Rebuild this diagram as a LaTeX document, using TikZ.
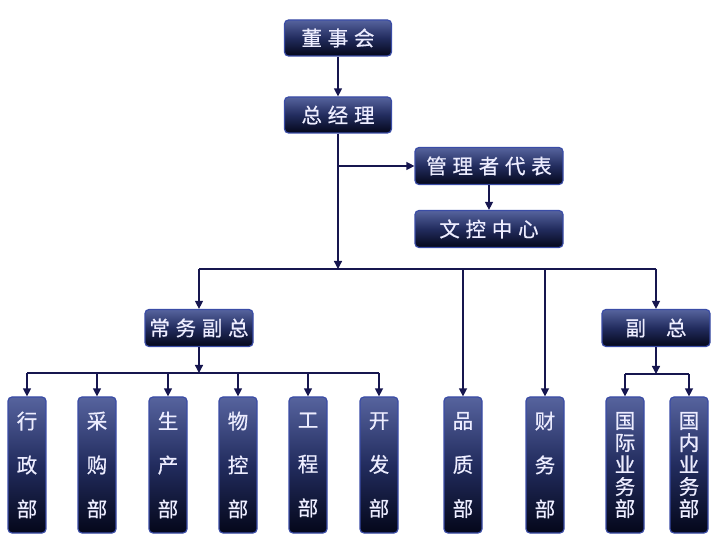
\documentclass[tikz,border=0pt]{standalone}
\usepackage{fontspec}
\usepackage{tikz}
\usetikzlibrary{arrows.meta,positioning,calc}
\newfontfamily\cjk[LetterSpace=28,FakeBold=0.6]{Noto Sans CJK SC}
\newfontfamily\cjkv[FakeBold=0.6]{Noto Sans CJK SC}
\definecolor{boxtop}{HTML}{56639E}
\definecolor{boxmid}{HTML}{222C5E}
\definecolor{boxbot}{HTML}{04071A}
\definecolor{boxline}{HTML}{3A4CA6}
\definecolor{wire}{HTML}{16164F}

\begin{document}
\begin{tikzpicture}[x=1pt, y=-1pt,
  box/.style={draw=boxline, line width=1.2pt, rounded corners=4pt, inner sep=0pt,
    top color=boxtop, bottom color=boxbot, middle color=boxmid, text=white!93!blue,
    font=\cjk\fontsize{20.5}{22}\selectfont, minimum width=107pt, minimum height=36pt},
  wide/.style={box, minimum width=148pt, minimum height=37pt},
  tall/.style={box, minimum width=38pt, minimum height=136pt, align=center,
    font=\cjkv\fontsize{20.5}{44}\selectfont},
  tallfive/.style={tall, font=\cjkv\fontsize{20.5}{22}\selectfont},
  arr/.style={-{Triangle[length=8pt, width=8pt]}, line width=1.3pt, wire},
  wireline/.style={line width=1.3pt, wire}]
  \useasboundingbox (0,0) rectangle (721,545);
  % top levels
  \node[box] (dsh) at (338,38) {董事会};
  \node[box] (zjl) at (338,115) {总经理};
  \node[wide] (glz) at (489,166) {管理者代表};
  \node[wide] (wk) at (489,229) {文控中心};
  \draw[arr] (dsh) -- (zjl);
  \draw[arr] (zjl.south |- glz) -- (glz);
  \draw[arr] (glz) -- (wk);
  % vice presidents
  \node[box, minimum width=108pt, minimum height=37pt] (cwfz) at (199,328) {常务副总};
  \node[box, minimum width=108pt, minimum height=37pt] (fz) at (656,328) {副\hspace{20pt}总};
  \coordinate (bus) at (338,269);
  \draw[arr] (zjl) -- (bus);
  \draw[wireline] (cwfz |- bus) -- (fz |- bus);
  % departments
  \node[tall] (xz) at (27,465) {行\\政\\部};
  \node[tall] (cg) at (97,465) {采\\购\\部};
  \node[tall] (sc) at (168,465) {生\\产\\部};
  \node[tall] (wkb) at (238,465) {物\\控\\部};
  \node[tall] (gc) at (308,465) {工\\程\\部};
  \node[tall] (kf) at (379,465) {开\\发\\部};
  \node[tall] (pz) at (463,465) {品\\质\\部};
  \node[tall] (cw) at (545,465) {财\\务\\部};
  \node[tallfive] (gj) at (625,465) {国\\际\\业\\务\\部};
  \node[tallfive] (gn) at (689,465) {国\\内\\业\\务\\部};
  \foreach \n in {cwfz,pz,cw,fz}
    \draw[arr] (\n |- bus) -- (\n);
  \coordinate (subbus) at (199,373);
  \draw[arr] (cwfz) -- (subbus);
  \draw[wireline] (xz |- subbus) -- (kf |- subbus);
  \foreach \n in {xz,cg,sc,wkb,gc,kf}
    \draw[arr] (\n |- subbus) -- (\n);
  \coordinate (fzbus) at (656,374);
  \draw[arr] (fz) -- (fzbus);
  \draw[wireline] (gj |- fzbus) -- (gn |- fzbus);
  \draw[arr] (gj |- fzbus) -- (gj);
  \draw[arr] (gn |- fzbus) -- (gn);
\end{tikzpicture}
\end{document}
